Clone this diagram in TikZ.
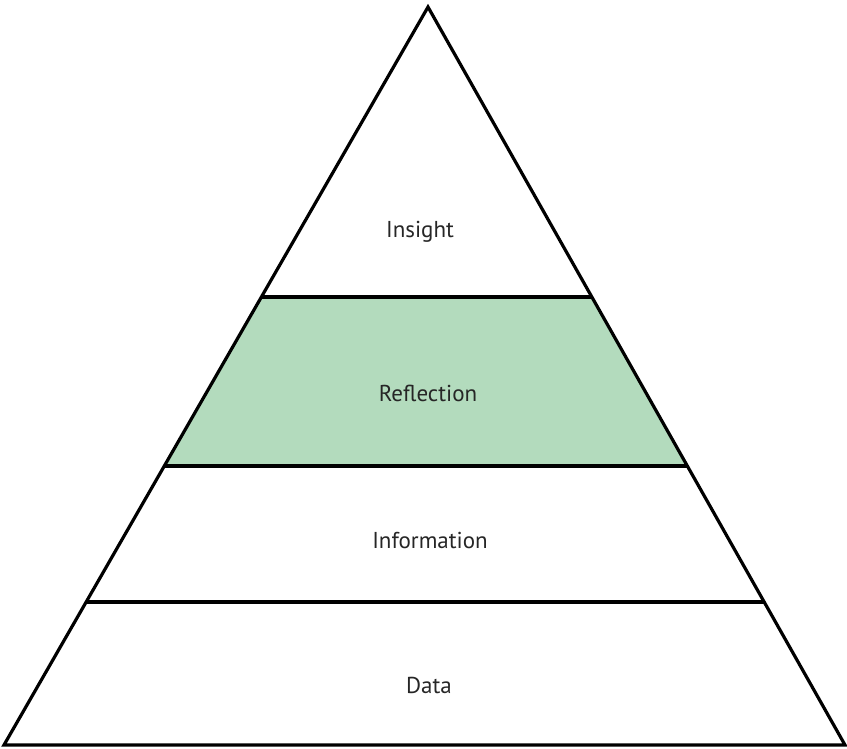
\documentclass[tikz,border=0pt]{standalone}
\usepackage{fontspec}
\setmainfont{PT Sans}
\begin{document}
\begin{tikzpicture}[x=1pt,y=-1pt,
  edge/.style={line width=3.2pt,line join=miter},
  label/.style={font=\fontsize{23}{26}\selectfont,text=black!85},
  band/.style={fill=reflgreen}]
\definecolor{reflgreen}{HTML}{B3DBBD}
\useasboundingbox (0,0) rectangle (847,749);
\coordinate (apex) at (428,7);
\coordinate (bl) at (4,745);
\coordinate (br) at (845,745);
\coordinate (l1) at (261.5,297);
\coordinate (r1) at (592,297);
\coordinate (l2) at (165,466);
\coordinate (r2) at (688,466);
\coordinate (l3) at (86.5,602);
\coordinate (r3) at (764,602);
\fill[band] (l1) -- (r1) -- (r2) -- (l2) -- cycle;
\draw[edge] (apex) -- (br) -- (bl) -- cycle;
\draw[edge] (l1) -- (r1);
\draw[edge] (l2) -- (r2);
\draw[edge] (l3) -- (r3);
\node[label] (insight) at (420,232) {Insight};
\node[label] (reflection) at (428,393) {Reflection};
\node[label] (information) at (430,540) {Information};
\node[label] (data) at (429,685) {Data};
\end{tikzpicture}
\end{document}
